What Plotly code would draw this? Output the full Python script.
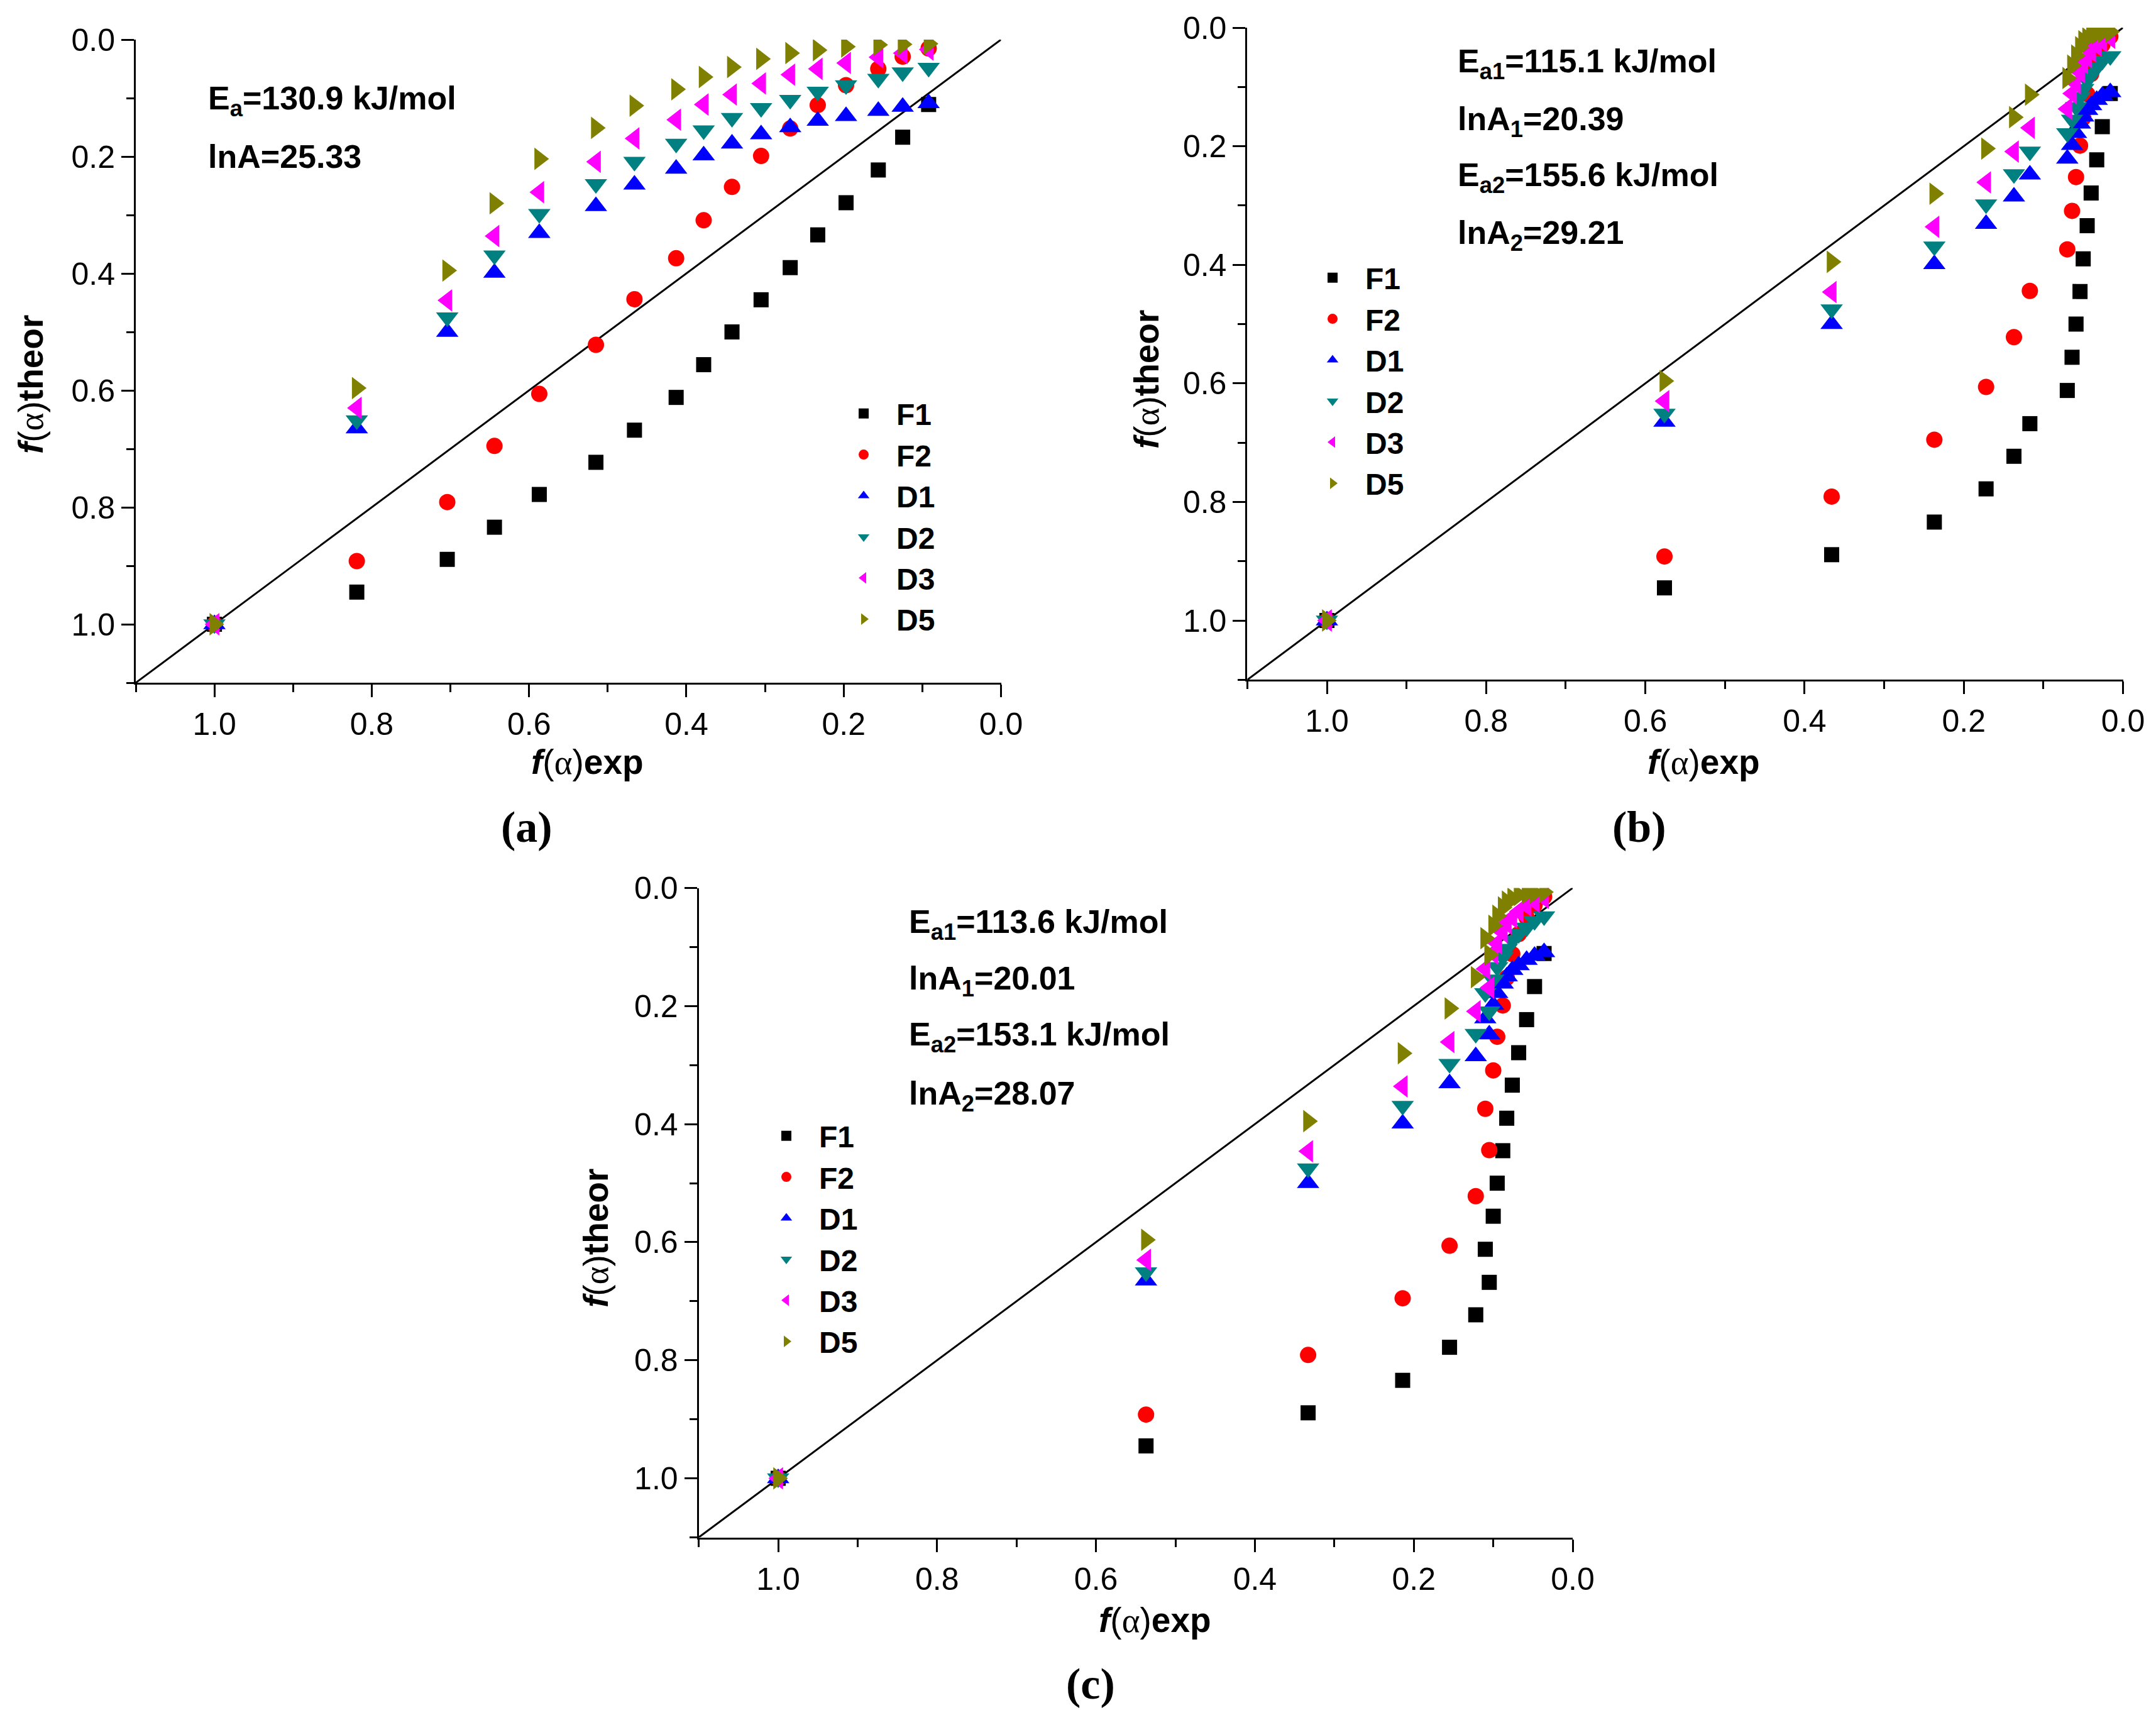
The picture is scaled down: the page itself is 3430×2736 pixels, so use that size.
import plotly.graph_objects as go

# ---------------- data ----------------
models = ["F1", "F2", "D1", "D2", "D3", "D5"]

# theoretical f(alpha) for each model (same alpha grid in every panel)
F1 = [1.0, 0.945, 0.889, 0.834, 0.778, 0.723, 0.668, 0.612, 0.556, 0.500, 0.445, 0.390, 0.334, 0.279, 0.223, 0.167, 0.111]
F2 = [1.0, 0.892, 0.791, 0.695, 0.606, 0.522, 0.444, 0.374, 0.309, 0.252, 0.199, 0.152, 0.112, 0.078, 0.050, 0.029, 0.015]
D1 = [1.0, 0.665, 0.500, 0.399, 0.331, 0.285, 0.248, 0.221, 0.198, 0.178, 0.162, 0.150, 0.139, 0.131, 0.122, 0.115, 0.109]
D2 = [1.0, 0.651, 0.475, 0.369, 0.298, 0.247, 0.209, 0.178, 0.155, 0.134, 0.117, 0.103, 0.089, 0.078, 0.067, 0.056, 0.048]
D3 = [1.0, 0.630, 0.446, 0.336, 0.261, 0.209, 0.169, 0.137, 0.111, 0.094, 0.075, 0.060, 0.050, 0.040, 0.030, 0.023, 0.017]
D5 = [1.0, 0.596, 0.395, 0.280, 0.204, 0.151, 0.113, 0.085, 0.064, 0.047, 0.033, 0.023, 0.018, 0.012, 0.009, 0.008, 0.007]

# experimental f(alpha) for each panel
exp_a = [1.0, 0.819, 0.704, 0.644, 0.587, 0.515, 0.466, 0.413, 0.378, 0.342, 0.305, 0.268, 0.233, 0.197, 0.156, 0.125, 0.092]
exp_b = [1.0, 0.576, 0.366, 0.237, 0.172, 0.137, 0.117, 0.070, 0.064, 0.059, 0.054, 0.050, 0.045, 0.040, 0.033, 0.026, 0.016]
exp_c = [1.0, 0.537, 0.333, 0.214, 0.155, 0.122, 0.105, 0.110, 0.100, 0.095, 0.088, 0.083, 0.076, 0.068, 0.058, 0.048, 0.036]

diag = [1.1, 0.0]  # y = x reference line end points

texts_a = ["E<sub>a</sub>=130.9 kJ/mol", "lnA=25.33"]
texts_b = ["E<sub>a1</sub>=115.1 kJ/mol", "lnA<sub>1</sub>=20.39", "E<sub>a2</sub>=155.6 kJ/mol", "lnA<sub>2</sub>=29.21"]
texts_c = ["E<sub>a1</sub>=113.6 kJ/mol", "lnA<sub>1</sub>=20.01", "E<sub>a2</sub>=153.1 kJ/mol", "lnA<sub>2</sub>=28.07"]
panel_labels = ["(a)", "(b)", "(c)"]

# ---------------- styling ----------------
W, H = 3430, 2736
OFF = 8  # page body margin compensation
model_y = [F1, F2, D1, D2, D3, D5]
colors = ["#000000", "#FF0000", "#0000FF", "#008080", "#FF00FF", "#808000"]
symbols = ["square", "circle", "triangle-up", "triangle-down", "triangle-left", "triangle-right"]
sizes = [24, 26, 31, 31, 31, 31]
SANS = "Liberation Sans, Arial, sans-serif"
ALPHA = '<span style="font-family:Liberation Serif, serif">α</span>'

def px(x):
    return (x - OFF) / W

def py(y):
    return 1 - (y - OFF) / H

panels = [
    dict(xd=[px(216), px(1592.5)], yd=[py(1086), py(63)], exp=exp_a, texts=texts_a,
         tx=329, ty=[160, 249], legend=dict(x=1322, y=620),
         ytitle=(49, 612), xtitle=(935, 1212), label=(838, 1315)),
    dict(xd=[px(1984.4), px(3377.5)], yd=[py(1081.3), py(44)], exp=exp_b, texts=texts_b,
         tx=2317, ty=[100.6, 192.5, 282, 374], legend=dict(x=2068, y=404),
         ytitle=(1824, 604), xtitle=(2710, 1212), label=(2607.5, 1315)),
    dict(xd=[px(1111.6), px(2502)], yd=[py(2445.5), py(1412.5)], exp=exp_c, texts=texts_c,
         tx=1444, ty=[1470, 1560, 1649, 1743], legend=dict(x=1199, y=1769),
         ytitle=(948, 1969), xtitle=(1837, 2577), label=(1735, 2678)),
]

fig = go.Figure()
annotations = []
layout = dict(width=W, height=H, margin=dict(l=0, r=0, t=0, b=0, autoexpand=False),
              paper_bgcolor="white", plot_bgcolor="white", showlegend=True)

for i, p in enumerate(panels):
    n = "" if i == 0 else str(i + 1)
    xa, ya = "x" + n, "y" + n
    lg = "legend" + n
    fig.add_trace(go.Scatter(x=diag, y=diag, mode="lines", xaxis=xa, yaxis=ya,
                             line=dict(color="black", width=3), showlegend=False,
                             hoverinfo="skip"))
    for name, yv, c, s, sz in zip(models, model_y, colors, symbols, sizes):
        fig.add_trace(go.Scatter(x=p["exp"], y=yv, mode="markers", name=name,
                                 xaxis=xa, yaxis=ya, legend=lg,
                                 marker=dict(symbol=s, color=c, size=sz, line=dict(width=0))))
    axis_common = dict(range=[1.1, 0], tickmode="linear", tick0=0, dtick=0.2,
                       ticks="outside", ticklen=20, tickwidth=3, tickcolor="black",
                       showline=True, linecolor="black", linewidth=3,
                       showgrid=False, zeroline=False, tickformat=".1f", automargin=False,
                       tickfont=dict(family=SANS, size=50, color="black"),
                       minor=dict(dtick=0.1, tick0=0, ticks="outside", ticklen=12,
                                  tickwidth=3, tickcolor="black", showgrid=False))
    layout["xaxis" + n] = dict(axis_common, domain=p["xd"], anchor=ya)
    layout["yaxis" + n] = dict(axis_common, domain=p["yd"], anchor=xa)
    layout[lg] = dict(x=px(p["legend"]["x"]), y=py(p["legend"]["y"]),
                      xanchor="left", yanchor="top", bgcolor="rgba(0,0,0,0)",
                      font=dict(family=SANS, size=48, color="black", weight="bold"),
                      itemwidth=94, tracegroupgap=0)
    for t, yy in zip(p["texts"], p["ty"]):
        annotations.append(dict(text="<b>" + t + "</b>", x=px(p["tx"]), y=py(yy),
                                xref="paper", yref="paper", xanchor="left", yanchor="middle",
                                showarrow=False, font=dict(family=SANS, size=52, color="black")))
    annotations.append(dict(text="<b><i>f</i></b>(" + ALPHA + ")<b>theor</b>", x=px(p["ytitle"][0]),
                            y=py(p["ytitle"][1]), xref="paper", yref="paper", textangle=-90,
                            xanchor="center", yanchor="middle",
                            showarrow=False, font=dict(family=SANS, size=55, color="black")))
    annotations.append(dict(text="<b><i>f</i></b>(" + ALPHA + ")<b>exp</b>", x=px(p["xtitle"][0]),
                            y=py(p["xtitle"][1]), xref="paper", yref="paper",
                            xanchor="center", yanchor="middle",
                            showarrow=False, font=dict(family=SANS, size=55, color="black")))
    annotations.append(dict(text="<b>" + panel_labels[i] + "</b>", x=px(p["label"][0]),
                            y=py(p["label"][1]), xref="paper", yref="paper",
                            xanchor="center", yanchor="middle",
                            showarrow=False, font=dict(family="Liberation Serif, serif", size=70, color="black")))

layout["annotations"] = annotations
fig.update_layout(**layout)
fig.write_html("out.html")
